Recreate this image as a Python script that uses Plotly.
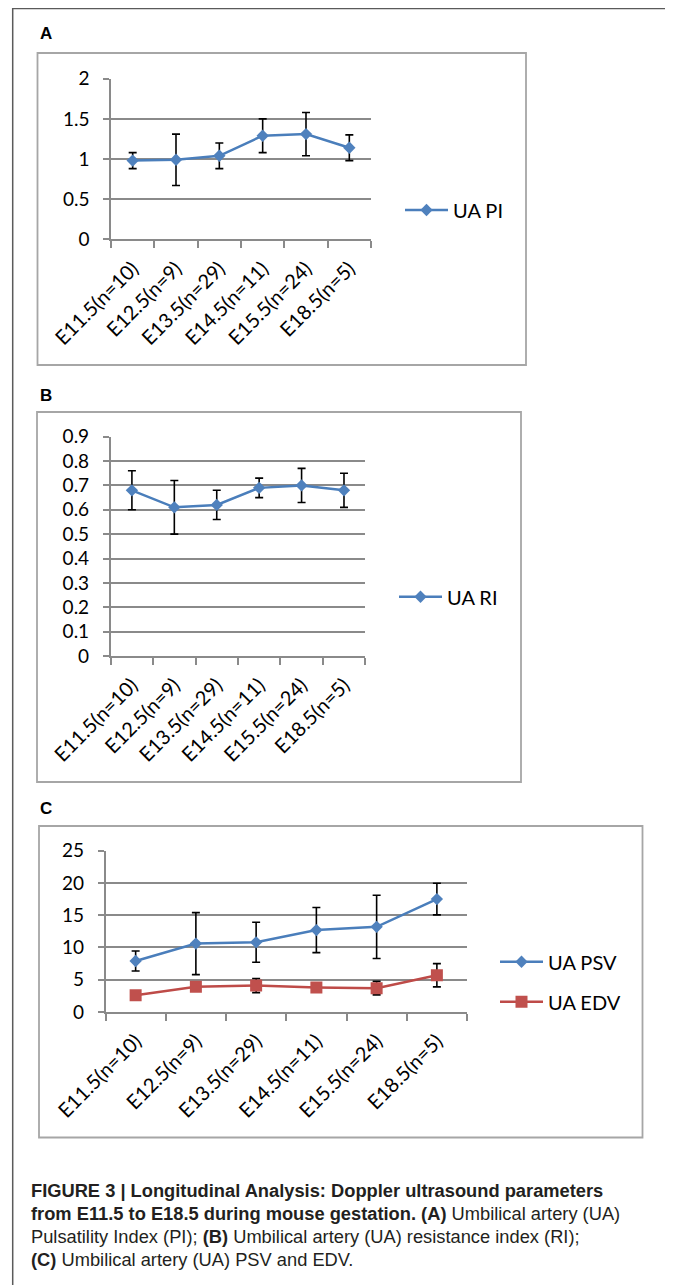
import plotly.graph_objects as go

# ---------------- data ----------------
categories = ["E11.5(n=10)", "E12.5(n=9)", "E13.5(n=29)", "E14.5(n=11)", "E15.5(n=24)", "E18.5(n=5)"]

ua_pi = [0.98, 0.99, 1.04, 1.29, 1.31, 1.14]
ua_pi_err = [0.10, 0.32, 0.16, 0.21, 0.27, 0.16]

ua_ri = [0.68, 0.61, 0.62, 0.69, 0.70, 0.68]
ua_ri_err = [0.08, 0.11, 0.06, 0.04, 0.07, 0.07]

ua_psv = [7.9, 10.6, 10.8, 12.7, 13.2, 17.5]
ua_psv_err = [1.55, 4.8, 3.1, 3.5, 4.9, 2.45]

ua_edv = [2.6, 3.9, 4.1, 3.8, 3.7, 5.7]
ua_edv_err = [0.5, 0.6, 1.1, 0.6, 1.05, 1.8]

y_ticks_a = [0, 0.5, 1, 1.5, 2]
y_ticks_b = [0, 0.1, 0.2, 0.3, 0.4, 0.5, 0.6, 0.7, 0.8, 0.9]
y_ticks_c = [0, 5, 10, 15, 20, 25]

# ---------------- layout helpers ----------------
# The page body has an 8px default margin; positions below are given in
# page pixels and converted to the figure's paper fractions.
OFF = 8
W, H = 665, 1277


def px_x(x):
    return (x - OFF) / W


def px_y(y):
    return 1 - (y - OFF) / H


BLUE = "#4A7EBB"
BLUE_M = "#4F81BD"
RED = "#BE4B48"
RED_M = "#C0504D"
GRID = "#8A8A8A"
YTICK_FONT = dict(family="Lato, Carlito, Calibri, sans-serif", size=19, color="#000000")
XTICK_FONT = dict(family="Lato, Carlito, Calibri, sans-serif", size=20, color="#000000")
LEG_FONT = dict(family="Lato, Carlito, Calibri, sans-serif", size=20, color="#000000")

fig = go.Figure()


def add_series(x_ax, y_ax, yvals, errs, name, color, mcolor, symbol, msize, legend):
    fig.add_trace(go.Scatter(
        x=categories, y=yvals, name=name, mode="lines+markers",
        xaxis=x_ax, yaxis=y_ax, legend=legend,
        line=dict(color=color, width=2.5),
        marker=dict(symbol=symbol, size=msize, color=mcolor, line=dict(width=0)),
        error_y=dict(type="data", array=errs, visible=True, color="#000000",
                     thickness=1.6, width=4),
    ))


add_series("x", "y", ua_pi, ua_pi_err, "UA PI", BLUE, BLUE_M, "diamond", 9.5, "legend")
add_series("x2", "y2", ua_ri, ua_ri_err, "UA RI", BLUE, BLUE_M, "diamond", 9.5, "legend2")
add_series("x3", "y3", ua_psv, ua_psv_err, "UA PSV", BLUE, BLUE_M, "diamond", 9.5, "legend3")
add_series("x3", "y3", ua_edv, ua_edv_err, "UA EDV", RED, RED_M, "square", 12, "legend4")


def xaxis_cfg(x0, x1, anchor):
    return dict(
        domain=[px_x(x0), px_x(x1)], anchor=anchor, type="category",
        categoryorder="array", categoryarray=categories, range=[-0.5, 5.5],
        showline=True, linecolor=GRID, linewidth=1.5,
        ticks="outside", tickson="boundaries", ticklen=7, tickcolor=GRID, tickwidth=1.5,
        showgrid=False, tickangle=-45, tickfont=XTICK_FONT, fixedrange=True,
        ticklabelstandoff=8, automargin=False,
    )


def yaxis_cfg(y_bottom, y_top, rng, tickvals, anchor):
    return dict(
        domain=[px_y(y_bottom), px_y(y_top)], anchor=anchor, range=rng,
        tickvals=tickvals, showline=True, linecolor=GRID, linewidth=1.5,
        ticks="outside", ticklen=6, tickcolor=GRID, tickwidth=1.5,
        showgrid=True, gridcolor=GRID, gridwidth=1.5, zeroline=False,
        tickfont=YTICK_FONT, ticklabelstandoff=10, fixedrange=True,
        automargin=False,
    )


def legend_cfg(x, y):
    return dict(x=px_x(x), y=px_y(y), xanchor="left", yanchor="middle",
                font=LEG_FONT, bgcolor="rgba(0,0,0,0)", borderwidth=0,
                itemwidth=43, itemclick=False, itemdoubleclick=False)


fig.update_layout(
    width=W, height=H,
    margin=dict(l=0, r=0, t=0, b=0, autoexpand=False),
    paper_bgcolor="white", plot_bgcolor="white",
    showlegend=True,
    xaxis=xaxis_cfg(111, 371, "y"),
    yaxis=yaxis_cfg(239.3, 78.7, [0, 2], y_ticks_a, "x"),
    xaxis2=xaxis_cfg(110.7, 365.2, "y2"),
    yaxis2=yaxis_cfg(656, 436.7, [0, 0.9], y_ticks_b, "x2"),
    xaxis3=xaxis_cfg(105.5, 467, "y3"),
    yaxis3=yaxis_cfg(1012, 850.7, [0, 25], y_ticks_c, "x3"),
    legend=legend_cfg(400, 210),
    legend2=legend_cfg(394, 596.7),
    legend3=legend_cfg(495, 961.7),
    legend4=legend_cfg(495, 1001.7),
)

# frames
shapes = [
    dict(type="rect", xref="paper", yref="paper", x0=px_x(12.7), x1=px_x(670),
         y0=px_y(1300), y1=px_y(8.6), line=dict(color="#5a5a5a", width=1.5)),
    dict(type="rect", xref="paper", yref="paper", x0=px_x(37.5), x1=px_x(526),
         y0=px_y(365), y1=px_y(53), line=dict(color="#A6A6A6", width=1.8)),
    dict(type="rect", xref="paper", yref="paper", x0=px_x(37), x1=px_x(521),
         y0=px_y(782), y1=px_y(412), line=dict(color="#A6A6A6", width=1.8)),
    dict(type="rect", xref="paper", yref="paper", x0=px_x(39), x1=px_x(642.5),
         y0=px_y(1137.5), y1=px_y(826), line=dict(color="#A6A6A6", width=1.8)),
]
fig.update_layout(shapes=shapes)

LABEL_FONT = dict(family="Liberation Sans, Arial, sans-serif", size=17, color="#000000")
annotations = []
for txt, yy in [("A", 34), ("B", 395), ("C", 808)]:
    annotations.append(dict(text="<b>%s</b>" % txt, x=px_x(38), y=px_y(yy), xref="paper", yref="paper",
                            xanchor="left", yanchor="middle", showarrow=False, font=LABEL_FONT))

caption_lines = [
    "<b>FIGURE 3 | Longitudinal Analysis: Doppler ultrasound parameters</b>",
    "<b>from E11.5 to E18.5 during mouse gestation. (A)</b> Umbilical artery (UA)",
    "Pulsatility Index (PI); <b>(B)</b> Umbilical artery (UA) resistance index (RI);",
    "<b>(C)</b> Umbilical artery (UA) PSV and EDV.",
]
caption_y = [1190, 1213, 1236, 1259]
CAP_FONT = dict(family="Liberation Sans, Arial, sans-serif", size=18.3, color="#231F20")
for line, yy in zip(caption_lines, caption_y):
    annotations.append(dict(text=line, x=px_x(29), y=px_y(yy), xref="paper", yref="paper",
                            xanchor="left", yanchor="middle", showarrow=False, font=CAP_FONT))
fig.update_layout(annotations=annotations)

fig.write_html("out.html")
